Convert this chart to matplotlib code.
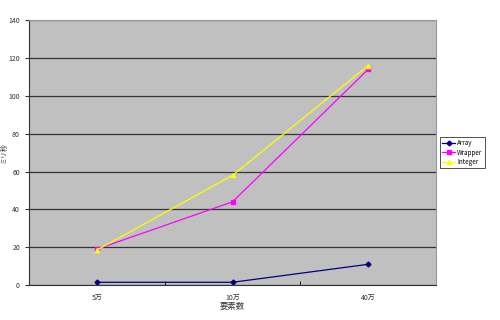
import matplotlib
matplotlib.use("Agg")
import matplotlib.pyplot as plt

plt.rcParams['font.family'] = ['Noto Sans CJK JP', 'DejaVu Sans']

categories = ["5万", "10万", "40万"]
array_ms = [1.5, 1.5, 11]
wrapper_ms = [19, 44, 114]
integer_ms = [18.5, 58, 116]

fig = plt.figure(figsize=(5, 3.2), dpi=100)
ax = fig.add_axes([0.058, 0.109, 0.814, 0.828])
ax.set_facecolor("#c0c0c0")

x = range(len(categories))
ax.plot(x, array_ms, color="#000080", marker="D", ms=2.5, lw=0.9, label="Array")
ax.plot(x, wrapper_ms, color="#ff00ff", marker="s", ms=2.5, lw=0.9, label="Wrapper")
ax.plot(x, integer_ms, color="#ffff00", marker="^", ms=3, lw=0.9, label="Integer")

ax.set_xlim(-0.5, 2.5)
ax.set_ylim(0, 140)
ax.set_yticks(range(0, 141, 20))
ax.set_xticks(list(x))
ax.set_xticklabels(categories)
ax.set_xticks([0.5, 1.5], minor=True)
ax.tick_params(axis="x", which="major", length=0, labelsize=5, pad=6)
ax.tick_params(axis="x", which="minor", length=3, direction="in")
ax.tick_params(axis="y", length=3, labelsize=5, colors="#333333")
ax.tick_params(axis="x", colors="#333333")
ax.yaxis.grid(True, color="#333333", lw=0.9)
ax.set_axisbelow(True)
for s in ["top", "right"]:
    ax.spines[s].set_color("#999999")
for s in ["left", "bottom"]:
    ax.spines[s].set_color("#333333")

ax.set_xlabel("要素数", fontsize=6, labelpad=0, color="#333333")
ax.set_ylabel("ミリ秒", fontsize=5, color="#333333")
ax.yaxis.set_label_coords(-0.052, 0.5)

leg = ax.legend(loc="center left", bbox_to_anchor=(1.01, 0.5), fontsize=4.5,
                frameon=True, fancybox=False, edgecolor="black",
                handlelength=2.0, handletextpad=0.4, borderpad=0.35,
                labelspacing=0.25, borderaxespad=0)
leg.get_frame().set_linewidth(0.6)

fig.savefig("out.png", dpi=100)
